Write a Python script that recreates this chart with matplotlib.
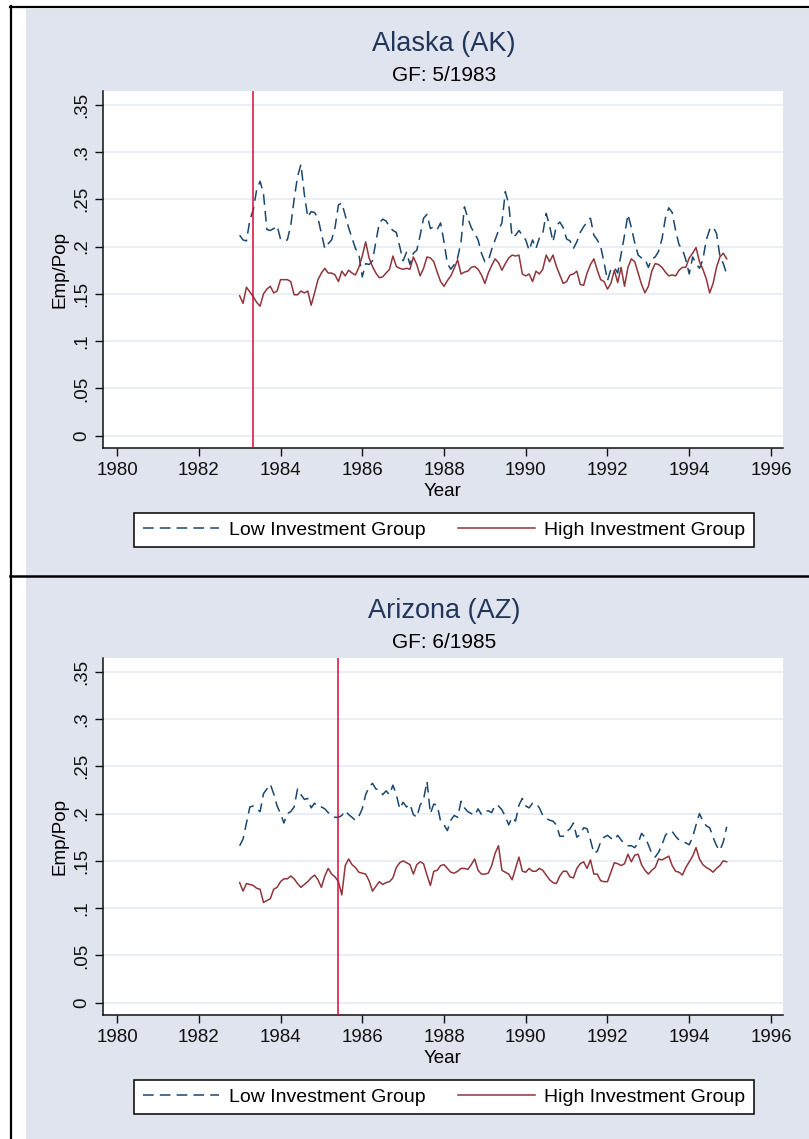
import numpy as np
import matplotlib
matplotlib.use("Agg")
import matplotlib.pyplot as plt
from matplotlib.patches import Rectangle
from matplotlib.lines import Line2D

# ---------------- data ----------------
start_year = 1983
n_months = 144
states = ["Alaska (AK)", "Arizona (AZ)"]
gf_labels = ["GF: 5/1983", "GF: 6/1985"]
gf_dates = [1983 + 4 / 12, 1985 + 5 / 12]

ak_low = [0.212, 0.207, 0.206, 0.228, 0.239, 0.260, 0.269, 0.256, 0.218, 0.217, 0.219, 0.222,
          0.208, 0.206, 0.207, 0.222, 0.250, 0.274, 0.287, 0.255, 0.231, 0.237, 0.236, 0.230,
          0.214, 0.198, 0.203, 0.207, 0.220, 0.244, 0.246, 0.233, 0.220, 0.209, 0.198, 0.192,
          0.168, 0.182, 0.181, 0.185, 0.205, 0.225, 0.229, 0.227, 0.221, 0.217, 0.215, 0.200,
          0.185, 0.194, 0.181, 0.193, 0.196, 0.212, 0.230, 0.234, 0.219, 0.221, 0.218, 0.225,
          0.205, 0.182, 0.176, 0.181, 0.188, 0.205, 0.242, 0.230, 0.220, 0.214, 0.207, 0.193,
          0.184, 0.185, 0.197, 0.207, 0.217, 0.225, 0.258, 0.245, 0.210, 0.212, 0.217, 0.212,
          0.207, 0.196, 0.207, 0.198, 0.209, 0.214, 0.235, 0.222, 0.205, 0.222, 0.226, 0.220,
          0.208, 0.206, 0.198, 0.205, 0.215, 0.221, 0.226, 0.230, 0.212, 0.207, 0.200, 0.183,
          0.164, 0.176, 0.178, 0.172, 0.192, 0.212, 0.234, 0.220, 0.204, 0.191, 0.188, 0.187,
          0.178, 0.187, 0.189, 0.195, 0.208, 0.230, 0.241, 0.236, 0.217, 0.202, 0.197, 0.186,
          0.171, 0.189, 0.182, 0.177, 0.186, 0.207, 0.218, 0.221, 0.214, 0.190, 0.182, 0.171]

ak_high = [0.148, 0.140, 0.157, 0.152, 0.147, 0.141, 0.137, 0.150, 0.155, 0.158, 0.151, 0.153,
           0.165, 0.165, 0.165, 0.163, 0.149, 0.149, 0.153, 0.151, 0.153, 0.138, 0.151, 0.165,
           0.172, 0.177, 0.172, 0.172, 0.170, 0.163, 0.174, 0.169, 0.175, 0.172, 0.170, 0.178,
           0.190, 0.205, 0.188, 0.179, 0.172, 0.167, 0.168, 0.172, 0.176, 0.190, 0.179, 0.177,
           0.176, 0.177, 0.176, 0.189, 0.181, 0.169, 0.177, 0.189, 0.188, 0.184, 0.173, 0.163,
           0.158, 0.164, 0.169, 0.177, 0.186, 0.171, 0.173, 0.174, 0.178, 0.179, 0.176, 0.170,
           0.161, 0.172, 0.180, 0.187, 0.183, 0.175, 0.182, 0.188, 0.191, 0.190, 0.191, 0.171,
           0.169, 0.171, 0.163, 0.174, 0.171, 0.176, 0.191, 0.184, 0.191, 0.179, 0.170, 0.161,
           0.163, 0.170, 0.171, 0.174, 0.160, 0.159, 0.172, 0.181, 0.187, 0.175, 0.165, 0.163,
           0.155, 0.161, 0.175, 0.162, 0.178, 0.158, 0.178, 0.187, 0.184, 0.172, 0.160, 0.151,
           0.158, 0.174, 0.182, 0.181, 0.178, 0.173, 0.169, 0.170, 0.169, 0.175, 0.178, 0.178,
           0.188, 0.193, 0.199, 0.184, 0.176, 0.166, 0.151, 0.161, 0.178, 0.189, 0.193, 0.187]

az_low = [0.166, 0.173, 0.190, 0.207, 0.208, 0.205, 0.202, 0.221, 0.226, 0.231, 0.221, 0.208,
          0.200, 0.190, 0.200, 0.202, 0.207, 0.226, 0.220, 0.215, 0.216, 0.206, 0.211, 0.207,
          0.207, 0.205, 0.201, 0.199, 0.196, 0.196, 0.198, 0.203, 0.199, 0.196, 0.193, 0.197,
          0.205, 0.220, 0.228, 0.232, 0.226, 0.225, 0.220, 0.224, 0.220, 0.230, 0.220, 0.205,
          0.212, 0.207, 0.210, 0.199, 0.196, 0.209, 0.215, 0.234, 0.200, 0.210, 0.209, 0.192,
          0.188, 0.182, 0.193, 0.198, 0.196, 0.213, 0.206, 0.202, 0.200, 0.198, 0.205, 0.199,
          0.202, 0.203, 0.201, 0.209, 0.208, 0.204, 0.197, 0.188, 0.196, 0.192, 0.209, 0.216,
          0.208, 0.206, 0.211, 0.211, 0.206, 0.198, 0.195, 0.193, 0.192, 0.188, 0.176, 0.176,
          0.181, 0.184, 0.190, 0.175, 0.178, 0.185, 0.184, 0.172, 0.158, 0.160, 0.170, 0.175,
          0.177, 0.174, 0.172, 0.177, 0.172, 0.168, 0.166, 0.166, 0.164, 0.169, 0.179, 0.175,
          0.167, 0.158, 0.154, 0.159, 0.167, 0.177, 0.181, 0.181, 0.176, 0.172, 0.171, 0.169,
          0.167, 0.175, 0.188, 0.200, 0.192, 0.187, 0.185, 0.175, 0.166, 0.161, 0.170, 0.186]

az_high = [0.127, 0.118, 0.126, 0.125, 0.124, 0.121, 0.120, 0.106, 0.108, 0.110, 0.120, 0.122,
           0.128, 0.131, 0.131, 0.134, 0.131, 0.126, 0.122, 0.125, 0.128, 0.132, 0.135, 0.130,
           0.122, 0.134, 0.142, 0.136, 0.133, 0.128, 0.114, 0.145, 0.152, 0.146, 0.143, 0.138,
           0.137, 0.136, 0.129, 0.118, 0.123, 0.128, 0.125, 0.127, 0.128, 0.132, 0.143, 0.148,
           0.150, 0.148, 0.146, 0.136, 0.146, 0.149, 0.147, 0.135, 0.124, 0.139, 0.140, 0.145,
           0.146, 0.142, 0.138, 0.137, 0.139, 0.142, 0.142, 0.141, 0.146, 0.152, 0.140, 0.136,
           0.136, 0.137, 0.145, 0.158, 0.166, 0.140, 0.138, 0.136, 0.130, 0.142, 0.154, 0.139,
           0.138, 0.142, 0.139, 0.139, 0.142, 0.140, 0.135, 0.130, 0.127, 0.126, 0.134, 0.139,
           0.139, 0.133, 0.132, 0.142, 0.147, 0.149, 0.142, 0.151, 0.136, 0.136, 0.129, 0.128,
           0.128, 0.138, 0.148, 0.147, 0.145, 0.147, 0.157, 0.149, 0.156, 0.157, 0.146, 0.140,
           0.136, 0.140, 0.143, 0.152, 0.151, 0.153, 0.155, 0.145, 0.139, 0.138, 0.135, 0.143,
           0.149, 0.155, 0.164, 0.152, 0.146, 0.143, 0.141, 0.138, 0.142, 0.145, 0.150, 0.149]

low_series = [ak_low, az_low]
high_series = [ak_high, az_high]
xticks = [1980, 1982, 1984, 1986, 1988, 1990, 1992, 1994, 1996]
yticks = [0, 0.05, 0.10, 0.15, 0.20, 0.25, 0.30, 0.35]
ytick_labels = ["0", ".05", ".1", ".15", ".2", ".25", ".3", ".35"]
legend_labels = ["Low Investment Group", "High Investment Group"]

# ---------------- style ----------------
W, H = 809, 1139
FONT = ["Liberation Sans", "DejaVu Sans"]
plt.rcParams["font.family"] = FONT
BG = "#dfe4ee"
NAVY = "#1a476f"
MAROON = "#90353b"
VRED = "#d80a36"
GRID = "#e4eaf2"
TITLE_C = "#22365a"

fig = plt.figure(figsize=(W / 100, H / 100), dpi=100)
fig.patch.set_facecolor("white")

def fx(x):
    return x / W

def fy(y):
    return 1 - y / H

# panel backgrounds
fig.add_artist(Rectangle((fx(26), fy(576)), fx(809) - fx(26), fy(9) - fy(576),
                         transform=fig.transFigure, facecolor=BG, edgecolor="none", zorder=0))
fig.add_artist(Rectangle((fx(26), fy(1139)), fx(809) - fx(26), fy(577) - fy(1139),
                         transform=fig.transFigure, facecolor=BG, edgecolor="none", zorder=0))
# black frame lines
fig.add_artist(Line2D([fx(10), fx(809)], [fy(6.5), fy(6.5)], transform=fig.transFigure,
                      color="black", lw=1.6, zorder=1))
fig.add_artist(Line2D([fx(10.5), fx(10.5)], [fy(6), fy(1139)], transform=fig.transFigure,
                      color="black", lw=1.6, zorder=1))
fig.add_artist(Line2D([fx(10), fx(809)], [fy(576), fy(576)], transform=fig.transFigure,
                      color="black", lw=1.8, zorder=1))

months = start_year + np.arange(n_months) / 12.0
offset = 567

for i in range(2):
    oy = i * offset
    ax = fig.add_axes([fx(103), fy(448.3 + oy), fx(783) - fx(103), fy(90.7 + oy) - fy(448.3 + oy)])
    ax.set_facecolor("white")
    ax.set_xlim(1979.657, 1996.294)
    ax.set_ylim(-0.0133, 0.3648)
    for s in ["top", "right"]:
        ax.spines[s].set_visible(False)
    for s in ["left", "bottom"]:
        ax.spines[s].set_color("#111111")
        ax.spines[s].set_linewidth(1.1)
    ax.set_yticks(yticks)
    ax.set_yticklabels(ytick_labels, rotation=90, va="center")
    ax.set_xticks(xticks)
    ax.tick_params(axis="both", direction="out", length=6, width=1.0, color="#111111",
                   labelsize=13.5, colors="#111111")
    ax.tick_params(axis="y", pad=3.5)
    ax.tick_params(axis="x", pad=4)
    ax.yaxis.grid(True, color=GRID, lw=1.1)
    ax.xaxis.grid(False)
    ax.set_axisbelow(True)

    l1, = ax.plot(months, low_series[i], color=NAVY, lw=1.1, dashes=(7.0, 4.0),
                  label=legend_labels[0], zorder=3)
    l2, = ax.plot(months, high_series[i], color=MAROON, lw=1.1, label=legend_labels[1], zorder=3)
    ax.axvline(gf_dates[i], color=VRED, lw=1.1, zorder=4)

    ax.set_xlabel("Year", fontsize=13.5, labelpad=2.5)
    ax.set_ylabel("Emp/Pop", fontsize=13.5, labelpad=3)

    fig.text(fx(444), fy(44 + oy), states[i], ha="center", va="center", fontsize=19.5, color=TITLE_C)
    fig.text(fx(444), fy(75.5 + oy), gf_labels[i], ha="center", va="center", fontsize=15, color="black")

    leg = ax.legend([l1, l2], legend_labels, loc="center", ncol=2,
                    bbox_to_anchor=(fx(444), fy(530 + oy)), bbox_transform=fig.transFigure,
                    fontsize=14, frameon=True, fancybox=False, edgecolor="black",
                    facecolor="white", framealpha=1, handlelength=3.95, handletextpad=0.5,
                    columnspacing=1.65, borderpad=0.42, borderaxespad=0)
    leg.get_frame().set_linewidth(1.1)

fig.savefig("out.png", dpi=100, facecolor=fig.get_facecolor())
